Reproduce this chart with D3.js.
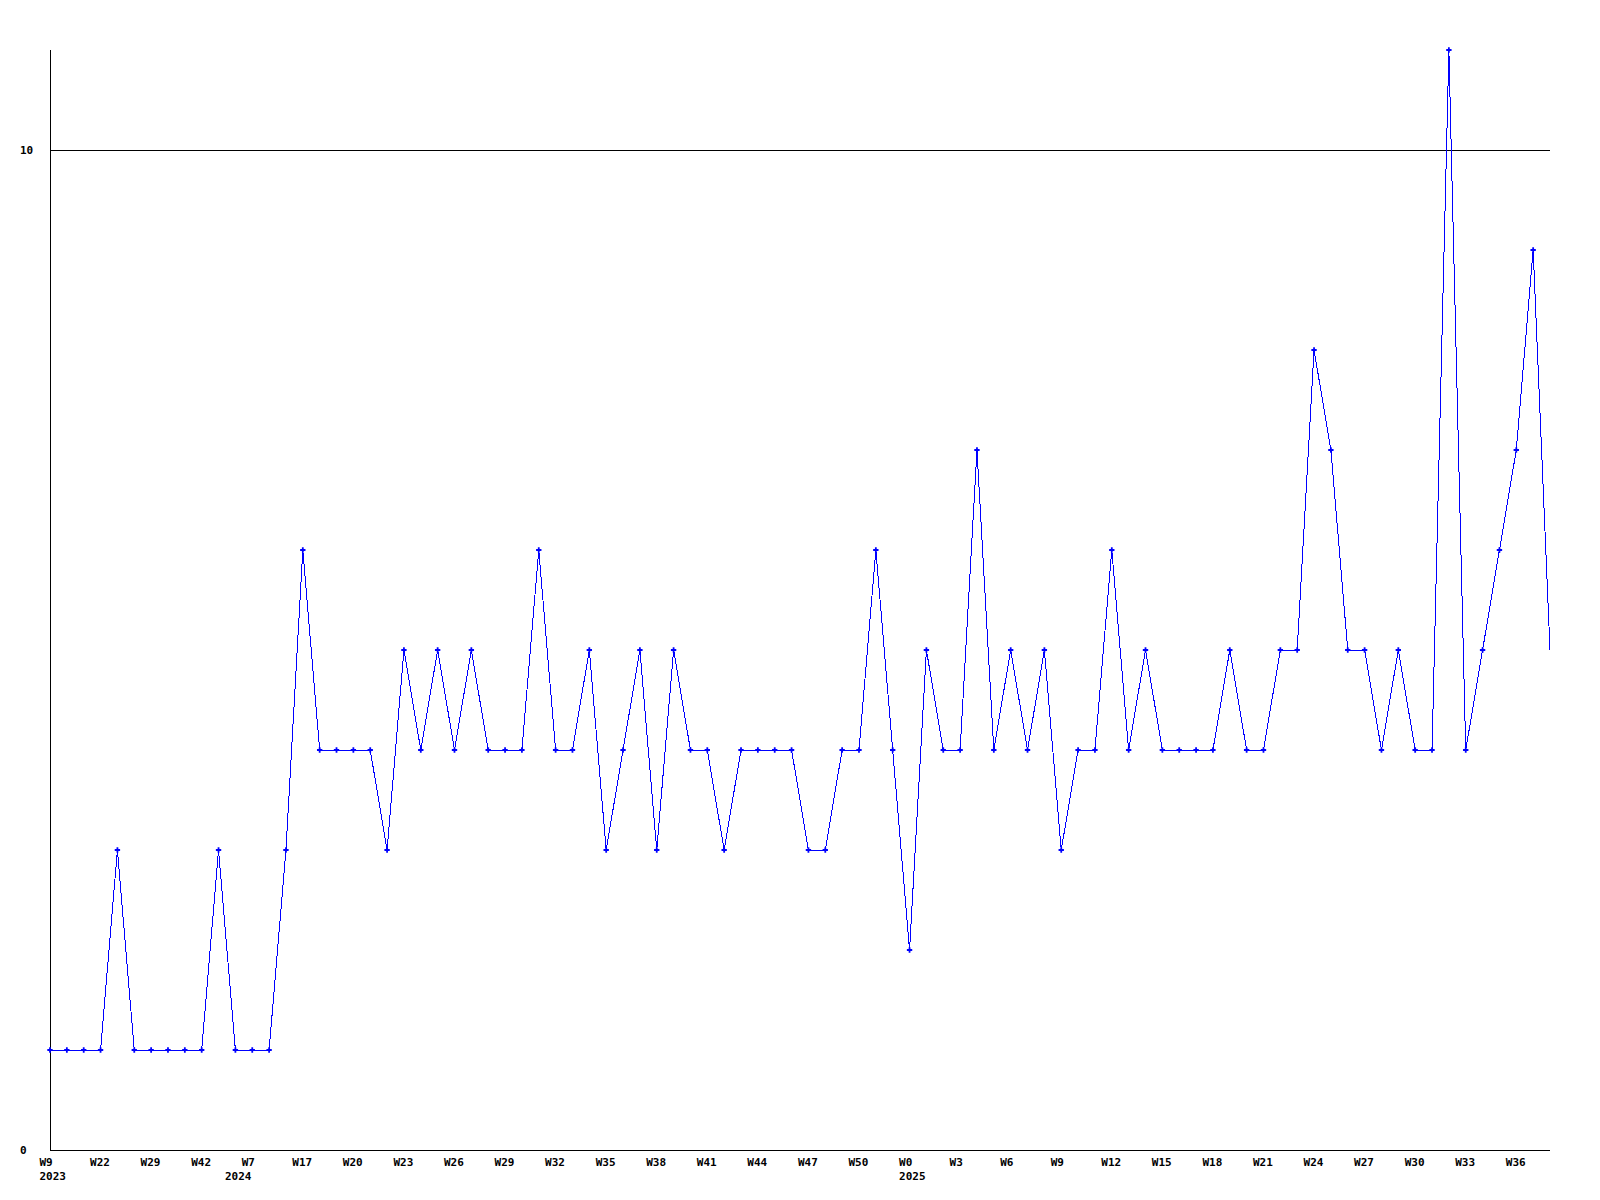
<!DOCTYPE html>
<html>
<head>
<meta charset="utf-8">
<script src="https://cdn.jsdelivr.net/npm/d3@7"></script>
<style>
    body { margin: 0; background: #fff; }
    text { font-family: "DejaVu Sans Mono", monospace; font-size: 11px; font-weight: bold; fill: #000; }
</style>
</head>
<body>
<svg id="weekly-chart" width="1600" height="1200"></svg>
<script>
// Weekly counts, one per point (last point is the running week, drawn without a marker)
const values = [
    1, 1, 1, 1, 3, 1, 1, 1, 1, 1,
    3, 1, 1, 1, 3, 6, 4, 4, 4, 4,
    3, 5, 4, 5, 4, 5, 4, 4, 4, 6,
    4, 4, 5, 3, 4, 5, 3, 5, 4, 4,
    3, 4, 4, 4, 4, 3, 3, 4, 4, 6,
    4, 2, 5, 4, 4, 7, 4, 5, 4, 5,
    3, 4, 4, 6, 4, 5, 4, 4, 4, 4,
    5, 4, 4, 5, 5, 8, 7, 5, 5, 4,
    5, 4, 4, 11, 4, 5, 6, 7, 9, 5
];

// One label every third point
const tickLabels = [
    'W9', 'W22', 'W29', 'W42', 'W7', 'W17', 'W20', 'W23', 'W26', 'W29',
    'W32', 'W35', 'W38', 'W41', 'W44', 'W47', 'W50', 'W0', 'W3', 'W6',
    'W9', 'W12', 'W15', 'W18', 'W21', 'W24', 'W27', 'W30', 'W33', 'W36'
];
const tickStep = 3;

// Year shown under the first point of each year (point index -> year)
const yearPoints = [0, 11, 51];
const yearLabels = ['2023', '2024', '2025'];

const yTicks = [0, 10];
const yMax = 11;

const drawChart = () => {
    const svg = d3.select('#weekly-chart');
    const margin = { top: 50, right: 50, bottom: 50, left: 50 };
    const width = +svg.attr('width');
    const height = +svg.attr('height');

    const x = d3.scaleLinear()
        .domain([0, values.length - 1])
        .range([margin.left, width - margin.right]);
    const y = d3.scaleLinear()
        .domain([0, yMax])
        .range([height - margin.bottom, margin.top]);

    // Horizontal grid line(s) above zero
    svg.append('g')
        .selectAll('line')
        .data(yTicks.filter(d => d > 0))
        .enter().append('line')
        .attr('x1', x.range()[0])
        .attr('x2', x.range()[1])
        .attr('y1', d => Math.round(y(d)) + 0.5)
        .attr('y2', d => Math.round(y(d)) + 0.5)
        .attr('stroke', '#000')
        .attr('shape-rendering', 'crispEdges');

    // Axes
    svg.append('line')
        .attr('x1', x.range()[0] + 0.5).attr('x2', x.range()[0] + 0.5)
        .attr('y1', y(yMax)).attr('y2', y(0))
        .attr('stroke', '#000')
        .attr('shape-rendering', 'crispEdges');
    svg.append('line')
        .attr('x1', x.range()[0]).attr('x2', x.range()[1])
        .attr('y1', y(0) + 0.5).attr('y2', y(0) + 0.5)
        .attr('stroke', '#000')
        .attr('shape-rendering', 'crispEdges');

    // Y labels, left aligned near the edge
    svg.append('g')
        .selectAll('text')
        .data(yTicks)
        .enter().append('text')
        .attr('x', 20)
        .attr('y', d => y(d) + 4)
        .text(d => d);

    // X labels
    const tickIdx = tickLabels.map((_, i) => i * tickStep);
    svg.append('g')
        .selectAll('text')
        .data(tickIdx)
        .enter().append('text')
        .attr('x', d => x(d) - 10.5)
        .attr('y', y(0) + 16)
        .text((d, i) => tickLabels[i]);

    svg.append('g')
        .selectAll('text')
        .data(yearPoints)
        .enter().append('text')
        .attr('x', d => x(d) - 10.5)
        .attr('y', y(0) + 30)
        .text((d, i) => yearLabels[i]);

    // Series line
    const line = d3.line()
        .x((d, i) => x(i))
        .y(d => y(d));

    svg.append('path')
        .datum(values)
        .attr('d', line)
        .attr('fill', 'none')
        .attr('stroke', '#0000ff')
        .attr('stroke-width', 1)
        .attr('shape-rendering', 'crispEdges');

    // Point markers
    const marker = d3.symbol().type(d3.symbolCross).size(16);
    svg.append('g')
        .selectAll('path')
        .data(values.slice(0, -1))
        .enter().append('path')
        .attr('d', marker)
        .attr('transform', (d, i) => `translate(${x(i)}, ${y(d)})`)
        .attr('fill', '#0000ff');
};

drawChart();
</script>
</body>
</html>
